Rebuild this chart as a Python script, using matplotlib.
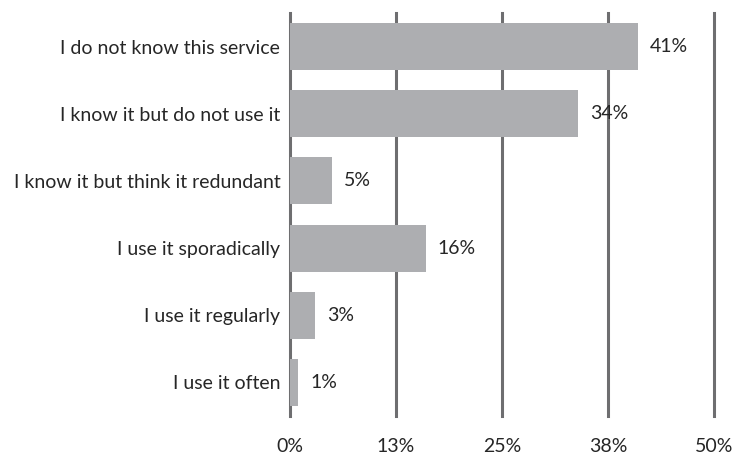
import matplotlib
matplotlib.use("Agg")
import matplotlib.pyplot as plt
from matplotlib.ticker import FixedLocator

plt.rcParams['font.family'] = ['Lato', 'DejaVu Sans']

categories = [
    "I do not know this service",
    "I know it but do not use it",
    "I know it but think it redundant",
    "I use it sporadically",
    "I use it regularly",
    "I use it often",
]
values = [41, 34, 5, 16, 3, 1]
tick_values = [0, 12.5, 25, 37.5, 50]
tick_labels = ["0%", "13%", "25%", "38%", "50%"]

bar_color = "#ADAEB1"
grid_color = "#6E6E70"
text_color = "#262626"
fs = 14

fig = plt.figure(figsize=(7.34, 4.55), dpi=100)
ax = fig.add_axes([290 / 734, 1 - 416 / 455, 424 / 734, 403 / 455])

y = list(range(len(categories)))
ax.barh(y, values, height=0.7, color=bar_color, zorder=3)

for yi, v in zip(y, values):
    ax.annotate(f"{v}%", xy=(v, yi), xytext=(8.5, 0), textcoords="offset points",
                ha="left", va="center", fontsize=fs, color=text_color, zorder=4)

ax.set_xlim(0, 50)
ax.set_ylim(len(categories) - 0.5, -0.5)
ax.set_yticks(y)
ax.set_yticklabels(categories)
ax.xaxis.set_major_locator(FixedLocator(tick_values))
ax.set_xticklabels(tick_labels)

for tv in tick_values:
    ax.axvline(tv, color=grid_color, linewidth=2.2, zorder=2, clip_on=False)

for s in ax.spines.values():
    s.set_visible(False)

ax.tick_params(axis="y", length=0, pad=7, labelsize=fs, labelcolor=text_color)
ax.tick_params(axis="x", length=0, pad=16, labelsize=fs, labelcolor=text_color)

fig.savefig("out.png", dpi=100)
